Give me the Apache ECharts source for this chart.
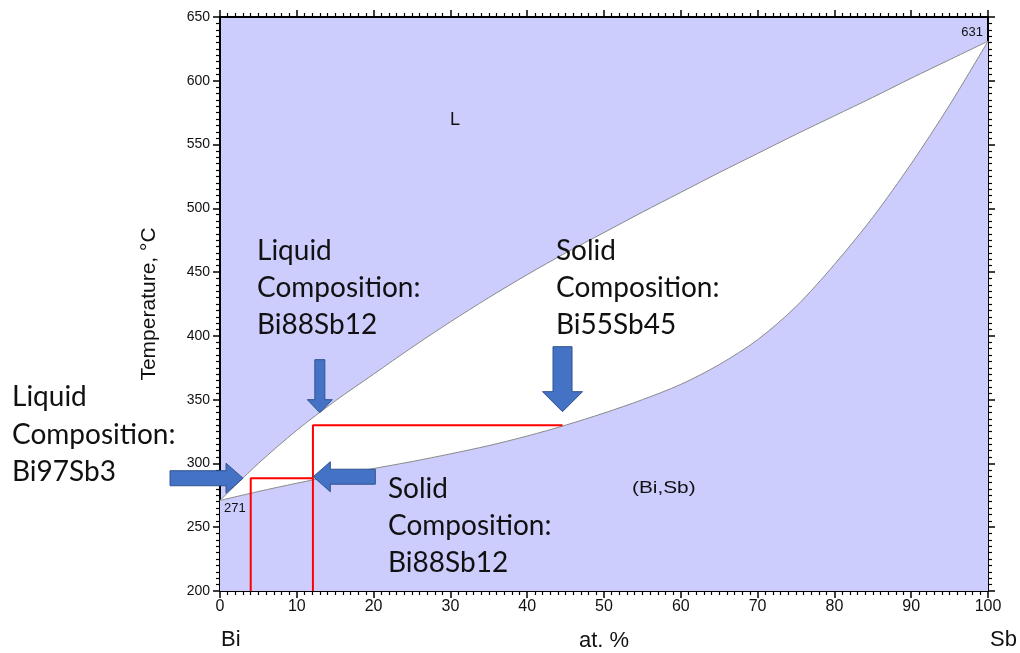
<!DOCTYPE html>
<html><head><meta charset="utf-8">
<script src="https://cdn.jsdelivr.net/npm/echarts@6/dist/echarts.min.js"></script>
<style>html,body{margin:0;padding:0;background:#fff}#c{width:1020px;height:653px}</style>
</head><body><div id="c"></div>
<script>
// ---- data ----
const composition = [0,5,10,15,20,25,30,35,40,45,50,55,60,65,70,75,80,85,90,95,100];
const liquidusT   = [271,300,326,349,370,391,411,430,448,465,481,497,512.5,528,543,558,572.5,587,602,616.5,631];
const solidusT    = [271,278,284.5,290.5,296,301.5,307.5,314,321.5,330,339.5,350,362,377.5,397,423,456,493,535,581,631];
const tieLineLow  = [[4,200],[4,288.4],[12.1,288.4]];
const tieLineHigh = [[12.1,200],[12.1,330],[44.6,330]];
const arrowTips   = [[3.0,288.4],[12.15,289.6],[13.0,339.8],[44.6,340.6]];
const arrowDirs   = ['right','left','down','down'];
const noteA = ['Liquid','Composition:','Bi97Sb3'];
const noteB = ['Liquid','Composition:','Bi88Sb12'];
const noteC = ['Solid','Composition:','Bi55Sb45'];
const noteD = ['Solid','Composition:','Bi88Sb12'];

// ---- styles ----
const LAV = '#ccccfd';
const AX = '"Liberation Sans", Arial, sans-serif';
const BIG = 'Lato, sans-serif';
const ARROW_STYLE = [
  {len:73, shaft:15, head:30, headLen:17},
  {len:62, shaft:15, head:30, headLen:17},
  {len:53, shaft:10, head:25, headLen:13},
  {len:65, shaft:19, head:40, headLen:20}
];
const DIRS = {right:[1,0], left:[-1,0], down:[0,1], up:[0,-1]};

const chart = echarts.init(document.getElementById('c'));
const pair = (xs, ys) => xs.map((x,i)=>[x, ys[i]]);

function axisCommon(showLabel, extra){
  return Object.assign({
    type:'value',
    axisLine:{show:true, onZero:false, lineStyle:{color:'#000', width:2}},
    axisTick:{show:true, inside:false, length:7, lineStyle:{color:'#000', width:1.5}},
    minorTick:{show:true, splitNumber:10, length:4, lineStyle:{color:'#000', width:1.2}},
    splitLine:{show:false}, minorSplitLine:{show:false},
    axisLabel:{show:showLabel}
  }, extra);
}

function textLines(lines, x, y0, step, size){
  return lines.map((t,i)=>({
    type:'text', x:x, y:y0+i*step, z:100,
    style:{text:t, font: size+'px '+BIG, fill:'#111', align:'left', verticalAlign:'middle'}
  }));
}

const graphics = [].concat(
  textLines(noteA, 12, 397, 37.5, 28),
  textLines(noteB, 257, 251, 37, 28),
  textLines(noteC, 556, 251, 37, 28),
  textLines(noteD, 388, 489, 37, 28),
  [
    {type:'text', x:450, y:120, z:100, style:{text:'L', font:'18px '+AX, fill:'#111', verticalAlign:'middle'}},
    {type:'text', x:632, y:489, z:100, scaleX:1.3, style:{text:'(Bi,Sb)', font:'16px '+AX, fill:'#111', verticalAlign:'middle'}},
    {type:'text', x:224, y:508, z:100, style:{text:'271', font:'13px '+AX, fill:'#111', verticalAlign:'middle'}},
    {type:'text', x:983, y:32, z:100, style:{text:'631', font:'13px '+AX, fill:'#111', align:'right', verticalAlign:'middle'}},
    {type:'text', x:221, y:640, z:100, style:{text:'Bi', font:'22px '+AX, fill:'#111', verticalAlign:'middle'}},
    {type:'text', x:1017, y:640, z:100, style:{text:'Sb', font:'22px '+AX, fill:'#111', align:'right', verticalAlign:'middle'}}
  ]
);

chart.setOption({
  animation:false,
  grid:{left:220, right:32, top:17, bottom:62, show:true, backgroundColor:LAV, borderWidth:0,
        containLabel:false, outerBoundsMode:'none'},
  xAxis:[
    axisCommon(true, {position:'bottom', min:0, max:100, interval:10,
      axisLabel:{show:true, fontFamily:AX, fontSize:16, color:'#111', margin:8},
      name:'at. %', nameLocation:'middle', nameGap:39,
      nameTextStyle:{fontFamily:AX, fontSize:22, color:'#111'}}),
    axisCommon(false, {position:'top', min:0, max:100, interval:10})
  ],
  yAxis:[
    axisCommon(true, {position:'left', min:200, max:650, interval:50,
      axisLabel:{show:true, fontFamily:AX, fontSize:14, color:'#111', margin:10},
      name:'Temperature, °C', nameLocation:'middle', nameGap:60,
      nameTextStyle:{fontFamily:AX, fontSize:21, color:'#111'}}),
    axisCommon(false, {position:'right', min:200, max:650, interval:50})
  ],
  series:[
    {type:'line', name:'liquidus', data:pair(composition, liquidusT), showSymbol:false,
      smooth:0.3,
      lineStyle:{color:'#8a8a8a', width:1}, areaStyle:{color:'#ffffff', opacity:1, origin:'start'}, z:2},
    {type:'line', name:'solidus', data:pair(composition, solidusT), showSymbol:false,
      smooth:0.3,
      lineStyle:{color:'#8a8a8a', width:1}, areaStyle:{color:LAV, opacity:1, origin:'start'}, z:3},
    {type:'line', data:tieLineLow, showSymbol:false, lineStyle:{color:'#ff0000', width:2}, z:4},
    {type:'line', data:tieLineHigh, showSymbol:false, lineStyle:{color:'#ff0000', width:2}, z:4},
    {type:'custom', xAxisIndex:0, yAxisIndex:0, clip:false, z:10,
      data: arrowTips.map((p,i)=>[p[0], p[1], i]),
      encode:{x:0, y:1},
      renderItem:(params, api)=>{
        const i = api.value(2);
        const tip = api.coord([api.value(0), api.value(1)]);
        const s = ARROW_STYLE[i];
        const d = DIRS[arrowDirs[i]];
        const n = [-d[1], d[0]];
        const P = (a,b)=>[tip[0]-d[0]*a+n[0]*b, tip[1]-d[1]*a+n[1]*b];
        const pts = [P(s.len,s.shaft/2), P(s.headLen,s.shaft/2), P(s.headLen,s.head/2), P(0,0),
                     P(s.headLen,-s.head/2), P(s.headLen,-s.shaft/2), P(s.len,-s.shaft/2)];
        return {type:'polygon', shape:{points:pts}, style:{fill:'#4472c4', stroke:'#2f528f', lineWidth:1}};
      }}
  ],
  graphic: graphics
});
</script></body></html>
